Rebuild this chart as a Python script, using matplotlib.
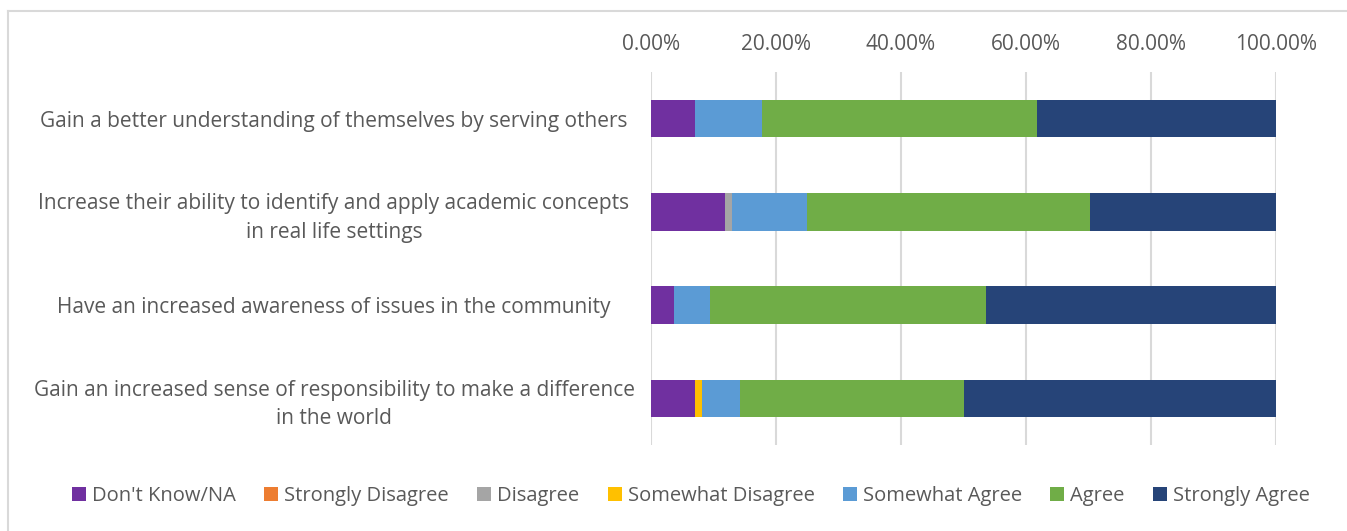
import numpy as np
import matplotlib
matplotlib.use("Agg")
from matplotlib import pyplot as plt
from matplotlib.lines import Line2D
from matplotlib.patches import Patch
from matplotlib.ticker import FuncFormatter
import matplotlib.transforms as mtransforms

plt.rcParams.update({
    "font.family": ["Open Sans", "DejaVu Sans"],
    "font.size": 12,
})

## data (percent)
categories = [
    "Gain a better understanding of themselves by serving others",
    "Increase their ability to identify and apply academic concepts\nin real life settings",
    "Have an increased awareness of issues in the community",
    "Gain an increased sense of responsibility to make a difference\nin the world",
]
series_names = ["Don't Know/NA", "Strongly Disagree", "Disagree", "Somewhat Disagree",
                "Somewhat Agree", "Agree", "Strongly Agree"]
dont_know = [7.0, 11.8, 3.6, 7.0]
strongly_disagree = [0.0, 0.0, 0.0, 0.0]
disagree = [0.0, 1.2, 0.0, 0.0]
somewhat_disagree = [0.0, 0.0, 0.0, 1.2]
somewhat_agree = [10.7, 11.9, 5.9, 6.0]
agree = [44.1, 45.3, 44.1, 35.8]
strongly_agree = [38.2, 29.8, 46.4, 50.0]
tick_values = [0, 20, 40, 60, 80, 100]

colors = ["#7030A0", "#ED7D31", "#A5A5A5", "#FFC000", "#5B9BD5", "#70AD47", "#264478"]
text_color = "#595959"

W, H = 1347, 531
fig = plt.figure(figsize=(W / 100, H / 100), dpi=100)
ax = fig.add_axes([651 / W, 1 - 445 / H, 625 / W, 373 / H])

series = [dont_know, strongly_disagree, disagree, somewhat_disagree,
          somewhat_agree, agree, strongly_agree]
y = np.arange(len(categories))
left = np.zeros(len(categories))
for vals, c, name in zip(series, colors, series_names):
    vals = np.array(vals)
    ax.barh(y, vals, left=left, height=0.4, color=c, label=name, zorder=3)
    left += vals

ax.set_ylim(len(categories) - 0.5, -0.5)
ax.set_xlim(0, 100)
ax.set_xticks(tick_values)
ax.xaxis.set_major_formatter(FuncFormatter(lambda v, p: f"{v:.2f}%"))
ax.xaxis.tick_top()
ax.tick_params(axis="x", length=0, pad=12, labelsize=15, colors=text_color)
ax.tick_params(axis="y", length=0, pad=0, labelsize=15, colors=text_color)
ax.set_yticks(y)
ax.set_yticklabels(categories, ha="center", linespacing=1.45)
ax.grid(axis="x", color="#D9D9D9", lw=1.5, zorder=0)
for s in ax.spines.values():
    s.set_visible(False)

# centre the category labels around x = 334 px
offset = mtransforms.ScaledTranslation(-(651 - 334) / 100, 0, fig.dpi_scale_trans)
for lbl in ax.get_yticklabels():
    lbl.set_multialignment("center")
    lbl.set_transform(lbl.get_transform() + offset)

# chart border (left and top)
fig.add_artist(Line2D([8 / W, 8 / W], [0, 1 - 11 / H], transform=fig.transFigure, color="#D9D9D9", lw=1.5))
fig.add_artist(Line2D([8 / W, 1], [1 - 11 / H, 1 - 11 / H], transform=fig.transFigure, color="#D9D9D9", lw=1.5))

handles = [Patch(facecolor=c, label=n) for c, n in zip(colors, series_names)]
leg = fig.legend(handles=handles, loc="center", bbox_to_anchor=(691 / W, 1 - 496 / H), ncol=7,
                 frameon=False, fontsize=14.5, handlelength=0.7, handleheight=0.7,
                 handletextpad=0.3, columnspacing=1.4)
for t in leg.get_texts():
    t.set_color(text_color)

fig.savefig("out.png", dpi=100)
